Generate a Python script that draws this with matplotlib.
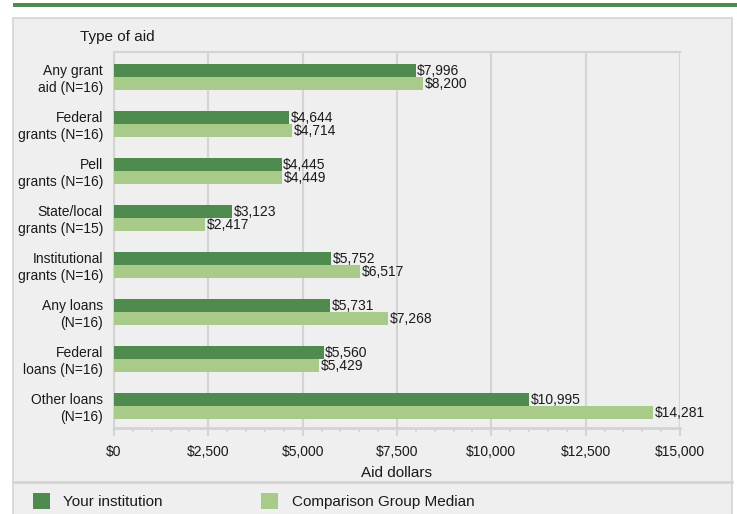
import matplotlib.pyplot as plt
from matplotlib.patches import Rectangle
import numpy as np

plt.rcParams['font.family'] = ['Liberation Sans', 'DejaVu Sans']

# chart data
categories = ["Any grant\naid (N=16)", "Federal\ngrants (N=16)", "Pell\ngrants (N=16)",
              "State/local\ngrants (N=15)", "Institutional\ngrants (N=16)", "Any loans\n(N=16)",
              "Federal\nloans (N=16)", "Other loans\n(N=16)"]
your_inst = [7996, 4644, 4445, 3123, 5752, 5731, 5560, 10995]
comp_median = [8200, 4714, 4449, 2417, 6517, 7268, 5429, 14281]
xticks = [0, 2500, 5000, 7500, 10000, 12500, 15000]

dark = '#4f8a4f'
light = '#a9cb89'
grid_c = '#d4d4d4'
txt = '#1a1a1a'
W, H = 737, 514

fig = plt.figure(figsize=(W / 100, H / 100), dpi=100)
fig.patch.set_facecolor('white')

# top band and panel background
fig.patches.append(Rectangle((13 / W, 1 - 7 / H), 724 / W, 4 / H, transform=fig.transFigure,
                             facecolor=dark, edgecolor='none', zorder=-10))
fig.patches.append(Rectangle((13 / W, -0.01), 719 / W, 1 - 18 / H + 0.01, transform=fig.transFigure,
                             facecolor='#efefef', edgecolor=grid_c, linewidth=1.2, zorder=-10))
fig.lines.append(plt.Line2D([13 / W, 732 / W], [1 - 482 / H, 1 - 482 / H], transform=fig.transFigure,
                            color=grid_c, linewidth=2, zorder=-9))

ax = fig.add_axes([114 / W, 1 - 428 / H, 566 / W, 376 / H])
ax.set_facecolor('#efefef')

y = np.arange(len(categories))
h = 0.28
ax.barh(y - h / 2, your_inst, height=h, color=dark, zorder=3)
ax.barh(y + h / 2, comp_median, height=h, color=light, zorder=3)

for i in range(len(categories)):
    ax.text(your_inst[i] + 40, y[i] - h / 2 + 0.02, "${:,}".format(your_inst[i]),
            va='center', ha='left', fontsize=10, color=txt, zorder=4)
    ax.text(comp_median[i] + 40, y[i] + h / 2 + 0.02, "${:,}".format(comp_median[i]),
            va='center', ha='left', fontsize=10, color=txt, zorder=4)

ax.set_xlim(0, 15000)
ax.set_ylim(7.47, -0.53)
ax.set_xticks(xticks)
ax.set_xticklabels(["${:,}".format(v) for v in xticks], fontsize=10, color=txt)
ax.set_xticks(np.arange(0, 15001, 500), minor=True)
ax.tick_params(axis='x', which='major', length=6, color=grid_c, width=1.5, pad=6)
ax.tick_params(axis='x', which='minor', length=3, color=grid_c, width=1.2)
ax.set_yticks(y)
ax.set_yticklabels(categories, fontsize=10, color=txt, multialignment='right')
ax.tick_params(axis='y', length=0, pad=8)
ax.grid(axis='x', color=grid_c, linewidth=1.5, zorder=0)
ax.spines['right'].set_visible(False)
for s in ['top', 'left', 'bottom']:
    ax.spines[s].set_color(grid_c)
    ax.spines[s].set_linewidth(1.5)
ax.spines['bottom'].set_linewidth(2)
ax.set_xlabel("Aid dollars", fontsize=11, color=txt, labelpad=5)

fig.text(80 / W, 1 - 37 / H, "Type of aid", fontsize=11, color=txt, va='center')

# legend
fig.patches.append(Rectangle((33 / W, 1 - 509 / H), 17 / W, 16 / H, transform=fig.transFigure,
                             facecolor=dark, edgecolor='none'))
fig.text(63 / W, 1 - 502 / H, "Your institution", fontsize=11, color=txt, va='center')
fig.patches.append(Rectangle((261 / W, 1 - 509 / H), 17 / W, 16 / H, transform=fig.transFigure,
                             facecolor=light, edgecolor='none'))
fig.text(292 / W, 1 - 502 / H, "Comparison Group Median", fontsize=11, color=txt, va='center')

fig.savefig('out.png', dpi=100)
